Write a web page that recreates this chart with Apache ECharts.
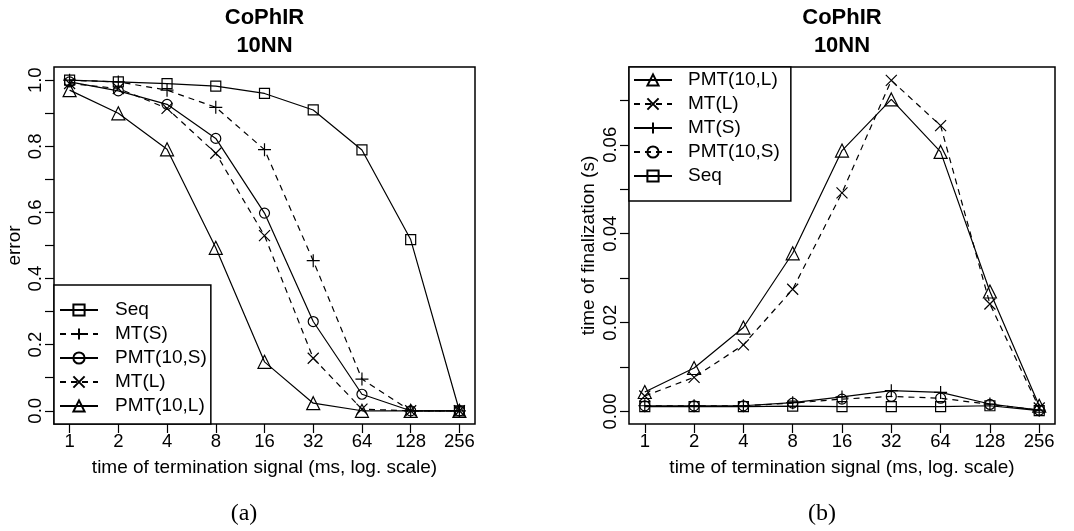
<!DOCTYPE html>
<html>
<head>
<meta charset="utf-8">
<script src="https://cdn.jsdelivr.net/npm/echarts@6/dist/echarts.min.js"></script>
<style>
  html, body { margin: 0; padding: 0; background: #fff; }
  #chart { width: 1074px; height: 531px; }
</style>
</head>
<body>
<div id="chart"></div>
<script>
// termination signal times (ms), drawn on a log2 scale
const categories = [1, 2, 4, 8, 16, 32, 64, 128, 256];

// (a) error
const errSeq  = [1.0, 0.995, 0.99, 0.982, 0.96, 0.91, 0.789, 0.518, 0.0];
const errMTS  = [1.0, 0.995, 0.97, 0.918, 0.79, 0.454, 0.096, 0.0, 0.0];
const errPMTS = [0.995, 0.968, 0.927, 0.824, 0.598, 0.27, 0.05, 0.0, 0.0];
const errMTL  = [0.99, 0.975, 0.915, 0.779, 0.53, 0.159, 0.005, 0.0, 0.0];
const errPMTL = [0.97, 0.9, 0.791, 0.493, 0.148, 0.023, 0.0, 0.0, 0.0];

// (b) time of finalization (s)
const timePMTL = [0.0044, 0.0098, 0.0189, 0.0356, 0.0587, 0.0702, 0.0584, 0.027, 0.0013];
const timeMTL  = [0.0035, 0.0077, 0.015, 0.0275, 0.0492, 0.0745, 0.0643, 0.0242, 0.0008];
const timeMTS  = [0.0013, 0.0013, 0.0013, 0.002, 0.0033, 0.0047, 0.0043, 0.0017, 0.0003];
const timePMTS = [0.0013, 0.0013, 0.0013, 0.0019, 0.0028, 0.0034, 0.003, 0.0016, 0.0003];
const timeSeq  = [0.0011, 0.0011, 0.0011, 0.0012, 0.0011, 0.0011, 0.0011, 0.0013, 0.0002];

// tick positions / labels
const xTicks = [0, 1, 2, 3, 4, 5, 6, 7, 8];           // log2 of categories
const errTicks = [0, 0.1, 0.2, 0.3, 0.4, 0.5, 0.6, 0.7, 0.8, 0.9, 1.0];
const errLabels = [0, 0.2, 0.4, 0.6, 0.8, 1.0];
const timeTicks = [0, 0.01, 0.02, 0.03, 0.04, 0.05, 0.06, 0.07];
const timeLabels = [0, 0.02, 0.04, 0.06];

const FONT = 'Liberation Sans, Arial, Helvetica, sans-serif';
const DASH = [6, 5];

const SYM = {
    square: 'rect',
    circle: 'circle',
    triangle: 'triangle',
    plus: 'path://M0,5L10,5M5,0L5,10',
    cross: 'path://M0,0L10,10M0,10L10,0'
};
const SYM_SIZE = { square: 10, circle: 10, triangle: 13, plus: 13, cross: 11 };

function pts(values) {
    return categories.map((c, i) => [Math.log2(c), values[i]]);
}

function mkSeries(name, values, sym, dashed, idx) {
    return {
        name: name,
        type: 'line',
        xAxisIndex: idx,
        yAxisIndex: idx,
        data: pts(values),
        symbol: SYM[sym],
        symbolSize: SYM_SIZE[sym],
        color: '#000',
        lineStyle: { color: '#000', width: 1.2, type: dashed ? DASH : 'solid' },
        itemStyle: { color: 'rgba(0,0,0,0)', borderColor: '#000', borderWidth: 1.2 },
        emphasis: { disabled: true },
        silent: true
    };
}

function xAxisFor(idx) {
    return {
        type: 'value',
        gridIndex: idx,
        min: -0.32,
        max: 8.32,
        name: 'time of termination signal (ms, log. scale)',
        nameLocation: 'middle',
        nameGap: 34,
        nameTextStyle: { fontSize: 19, color: '#000', fontFamily: FONT },
        axisLine: { show: false, onZero: false },
        splitLine: { show: false },
        axisTick: { show: true, inside: false, length: 9, customValues: xTicks, lineStyle: { color: '#000', width: 1.2 } },
        axisLabel: {
            customValues: xTicks, margin: 8, fontSize: 18.5, color: '#000', fontFamily: FONT,
            formatter: v => String(Math.round(Math.pow(2, v)))
        }
    };
}

function yAxisFor(idx, opts) {
    return {
        type: 'value',
        gridIndex: idx,
        min: opts.min,
        max: opts.max,
        name: opts.name,
        nameLocation: 'middle',
        nameGap: opts.nameGap,
        nameTextStyle: { fontSize: 19, color: '#000', fontFamily: FONT },
        axisLine: { show: false, onZero: false },
        splitLine: { show: false },
        axisTick: { show: true, inside: false, length: 9, customValues: opts.ticks, lineStyle: { color: '#000', width: 1.2 } },
        axisLabel: {
            customValues: opts.labels, rotate: 90, margin: 9, fontSize: 18.5, color: '#000', fontFamily: FONT,
            formatter: v => v.toFixed(opts.digits)
        }
    };
}

const chart = echarts.init(document.getElementById('chart'));

const titleText = { fontSize: 22, fontWeight: 'bold', lineHeight: 28, color: '#000', fontFamily: FONT };
const capText = { fontSize: 24, fontWeight: 'normal', color: '#000', fontFamily: 'Liberation Serif, Times New Roman, serif' };

chart.setOption({
    animation: false,
    backgroundColor: '#fff',
    title: [
        { text: 'CoPhIR\n10NN', left: 264.5, top: 4, textAlign: 'center', padding: 0, textStyle: titleText },
        { text: 'CoPhIR\n10NN', left: 842, top: 4, textAlign: 'center', padding: 0, textStyle: titleText },
        { text: '(a)', left: 244, top: 502, textAlign: 'center', padding: 0, textStyle: capText },
        { text: '(b)', left: 822, top: 502, textAlign: 'center', padding: 0, textStyle: capText }
    ],
    grid: [
        { left: 54, top: 67, width: 421, height: 357, show: true, borderColor: '#000', borderWidth: 1.5, backgroundColor: 'transparent' },
        { left: 629, top: 67, width: 426, height: 357, show: true, borderColor: '#000', borderWidth: 1.5, backgroundColor: 'transparent' }
    ],
    xAxis: [xAxisFor(0), xAxisFor(1)],
    yAxis: [
        yAxisFor(0, { min: -0.04, max: 1.04, ticks: errTicks, labels: errLabels, digits: 1, name: 'error', nameGap: 30 }),
        yAxisFor(1, { min: -0.0028, max: 0.0775, ticks: timeTicks, labels: timeLabels, digits: 2, name: 'time of finalization (s)', nameGap: 31 })
    ],
    legend: [
        {
            orient: 'vertical', left: 54, top: 285,
            data: ['Seq', 'MT(S)', 'PMT(10,S)', 'MT(L)', 'PMT(10,L)'],
            itemWidth: 38, itemHeight: 14, itemGap: 0,
            padding: [13, 4, 6, 5],
            backgroundColor: '#fff', borderColor: '#000', borderWidth: 1.5, borderRadius: 0,
            textStyle: { fontSize: 19, lineHeight: 24, color: '#000', fontFamily: FONT, padding: [0, 0, 0, 12] },
            selectedMode: false
        },
        {
            orient: 'vertical', left: 629, top: 67,
            data: ['b:PMT(10,L)', 'b:MT(L)', 'b:MT(S)', 'b:PMT(10,S)', 'b:Seq'],
            formatter: n => n.replace('b:', ''),
            itemWidth: 38, itemHeight: 14, itemGap: 0,
            padding: [1, 11, 13, 4],
            backgroundColor: '#fff', borderColor: '#000', borderWidth: 1.5, borderRadius: 0,
            textStyle: { fontSize: 19, lineHeight: 24, color: '#000', fontFamily: FONT, padding: [0, 0, 0, 11] },
            selectedMode: false
        }
    ],
    series: [
        mkSeries('Seq', errSeq, 'square', false, 0),
        mkSeries('MT(S)', errMTS, 'plus', true, 0),
        mkSeries('PMT(10,S)', errPMTS, 'circle', false, 0),
        mkSeries('MT(L)', errMTL, 'cross', true, 0),
        mkSeries('PMT(10,L)', errPMTL, 'triangle', false, 0),

        mkSeries('b:PMT(10,L)', timePMTL, 'triangle', false, 1),
        mkSeries('b:MT(L)', timeMTL, 'cross', true, 1),
        mkSeries('b:MT(S)', timeMTS, 'plus', false, 1),
        mkSeries('b:PMT(10,S)', timePMTS, 'circle', true, 1),
        mkSeries('b:Seq', timeSeq, 'square', false, 1)
    ]
});
</script>
</body>
</html>
